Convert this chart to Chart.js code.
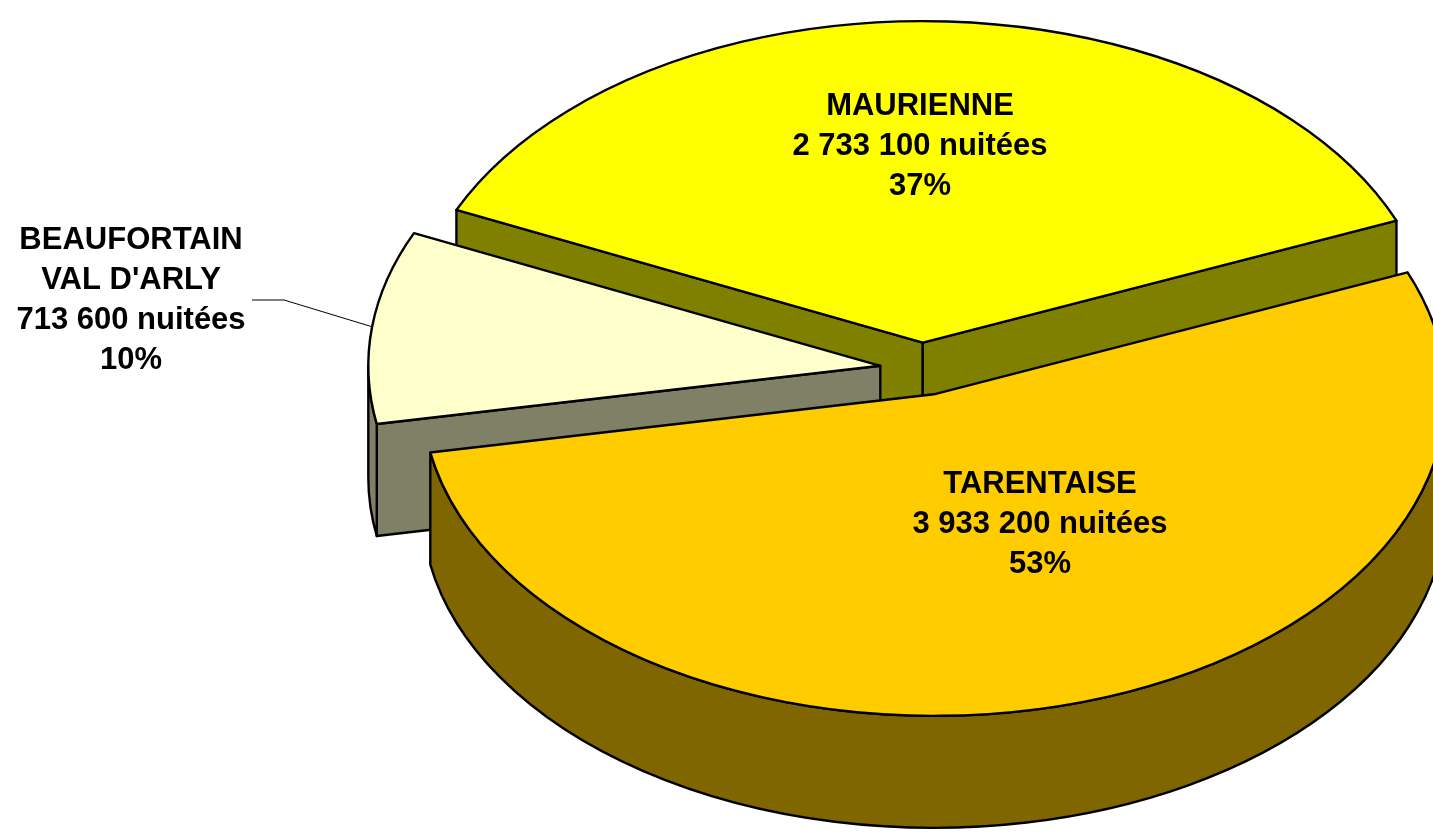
<!DOCTYPE html>
<html>
<head>
<meta charset="utf-8">
<script src="https://cdn.jsdelivr.net/npm/chart.js@4"></script>
<style>
  html, body { margin: 0; padding: 0; background: #fff; overflow: hidden; }
</style>
</head>
<body>
<canvas id="miGrafica" width="1433" height="835"></canvas>
<script>
// Nuitées par vallée
var regions = ['TARENTAISE', "BEAUFORTAIN\nVAL D'ARLY", 'MAURIENNE'];
var nuitees = [3933200, 713600, 2733100];
var topColors = ['#FFCC00', '#FFFFCC', '#FFFF00'];
var sideColors = ['#806600', '#808066', '#808000'];

// where the label blocks go (first line centre) and line spacing
var labelPos = [{x: 1040, y: 484}, {x: 131, y: 240}, {x: 920, y: 106}];
var LINE = 40;

// fake 3D: vertical squash, thickness and explosion (px)
var SQUASH = 0.628, DEPTH = 112, EXPLODE = 42, RADIUS = 512;

var total = nuitees.reduce(function(a, b) { return a + b; }, 0);

function fmt(v) {
    return String(v).replace(/\B(?=(\d{3})+(?!\d))/g, ' ');
}

// exploded centre of a slice (chart coords, before squash)
function centre(arc) {
    var mid = (arc.startAngle + arc.endAngle) / 2;
    return {x: arc.x + Math.cos(mid) * EXPLODE, y: arc.y + Math.sin(mid) * EXPLODE};
}

// stroke the current path without the vertical squash on the line width
function outline(chart, ctx) {
    var dpr = chart.currentDevicePixelRatio || 1;
    ctx.save();
    ctx.setTransform(dpr, 0, 0, dpr, 0, 0);
    ctx.lineWidth = 2.4;
    ctx.lineJoin = 'round';
    ctx.strokeStyle = '#000';
    ctx.stroke();
    ctx.restore();
}

function drawSides(chart, ctx, a, i) {
    var c = centre(a), R = a.outerRadius;
    var a0 = a.startAngle, a1 = a.endAngle;
    var d = DEPTH / SQUASH;
    ctx.fillStyle = sideColors[i];

    // cut faces that look towards the viewer
    [[a0, Math.cos(a0) < 0], [a1, Math.cos(a1) > 0]].forEach(function(w) {
        if (!w[1]) return;
        var ex = c.x + R * Math.cos(w[0]), ey = c.y + R * Math.sin(w[0]);
        ctx.beginPath();
        ctx.moveTo(c.x, c.y);
        ctx.lineTo(ex, ey);
        ctx.lineTo(ex, ey + d);
        ctx.lineTo(c.x, c.y + d);
        ctx.closePath();
        ctx.fill();
        outline(chart, ctx);
    });

    // front part of the rim
    for (var k = -1; k <= 1; k++) {
        var lo = Math.max(a0, 2 * Math.PI * k);
        var hi = Math.min(a1, 2 * Math.PI * k + Math.PI);
        if (hi <= lo) continue;
        ctx.beginPath();
        ctx.arc(c.x, c.y, R, lo, hi);
        ctx.lineTo(c.x + R * Math.cos(hi), c.y + R * Math.sin(hi) + d);
        ctx.arc(c.x, c.y + d, R, hi, lo, true);
        ctx.closePath();
        ctx.fill();
        outline(chart, ctx);
    }
}

var pie3d = {
    id: 'pie3d',
    beforeDatasetDraw: function(chart, args) {
        var ctx = chart.ctx;
        var arcs = args.meta.data;
        var cy = arcs[0].y;

        ctx.save();
        ctx.translate(0, cy);
        ctx.scale(1, SQUASH);
        ctx.translate(0, -cy);

        // back slices first, each one sides then top
        var order = arcs.map(function(a, i) { return i; });
        order.sort(function(i, j) { return centre(arcs[i]).y - centre(arcs[j]).y; });

        order.forEach(function(i) {
            var a = arcs[i], c = centre(a);
            drawSides(chart, ctx, a, i);

            ctx.save();
            ctx.translate(c.x - a.x, c.y - a.y);
            a.draw(ctx);
            ctx.restore();

            ctx.beginPath();
            ctx.moveTo(c.x, c.y);
            ctx.arc(c.x, c.y, a.outerRadius, a.startAngle, a.endAngle);
            ctx.closePath();
            outline(chart, ctx);
        });

        ctx.restore();
        return false;
    },
    afterDatasetsDraw: function(chart) {
        var ctx = chart.ctx;
        var arcs = chart.getDatasetMeta(0).data;
        var cy = arcs[0].y;

        ctx.save();
        ctx.font = 'bold 31px "Liberation Sans", Arial, sans-serif';
        ctx.fillStyle = '#000';
        ctx.textAlign = 'center';
        ctx.textBaseline = 'middle';
        arcs.forEach(function(a, i) {
            var pct = Math.round(nuitees[i] / total * 100);
            var lines = regions[i].split('\n').concat([fmt(nuitees[i]) + ' nuitées', pct + '%']);
            var p = labelPos[i];
            lines.forEach(function(t, j) { ctx.fillText(t, p.x, p.y + j * LINE); });
        });

        // leader line for the small slice
        var b = arcs[1], c = centre(b);
        var mid = (b.startAngle + b.endAngle) / 2;
        var ex = c.x + b.outerRadius * Math.cos(mid);
        var ey = cy + (c.y + b.outerRadius * Math.sin(mid) - cy) * SQUASH;
        var ly = labelPos[1].y + 1.5 * LINE;
        ctx.beginPath();
        ctx.moveTo(252, ly);
        ctx.lineTo(284, ly);
        ctx.lineTo(ex, ey);
        ctx.lineWidth = 1;
        ctx.strokeStyle = '#000';
        ctx.stroke();
        ctx.restore();
    }
};

document.addEventListener("DOMContentLoaded", function() {
    var ctx = document.getElementById("miGrafica").getContext("2d");

    var data = {
        labels: regions,
        datasets: [{
            data: nuitees,
            backgroundColor: topColors,
            borderWidth: 0,
            radius: RADIUS,
            clip: false,
            hoverOffset: 0
        }]
    };

    var options = {
        responsive: false,
        animation: false,
        events: [],
        rotation: 67.7,
        layout: { padding: { left: 411, right: 0, top: 0, bottom: 97 } },
        plugins: {
            legend: { display: false },
            tooltip: { enabled: false }
        }
    };

    new Chart(ctx, {
        type: 'pie',
        data: data,
        options: options,
        plugins: [pie3d]
    });
});
</script>
</body>
</html>
